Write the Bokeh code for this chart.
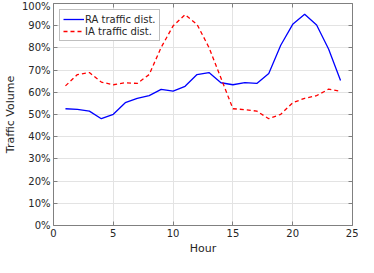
from bokeh.plotting import figure
from bokeh.embed import file_html
from bokeh.resources import INLINE
from bokeh.models import LinearAxis, PrintfTickFormatter, FixedTicker, Range1d, Legend, LegendItem

hours = list(range(1, 25))
ra = [52.6, 52.3, 51.5, 48.1, 50.1, 55.3, 57.3, 58.5, 61.3, 60.5, 62.7, 68.0,
      68.9, 64.3, 63.4, 64.4, 64.0, 68.5, 81.2, 90.6, 95.2, 90.3, 79.5, 65.3]
ia = [62.9, 68.0, 68.9, 64.6, 63.4, 64.3, 64.0, 68.0, 80.2, 89.9, 95.0, 90.6,
      80.2, 66.4, 52.6, 52.2, 51.5, 48.1, 50.1, 55.3, 57.3, 58.5, 61.4, 60.5]
x_ticks = [0, 5, 10, 15, 20, 25]
y_ticks = list(range(0, 101, 10))

FONT = "DejaVu Sans"
TXT = "#262626"
AX = "#808080"

p = figure(width=358, height=257, output_backend="svg", toolbar_location=None,
           x_range=Range1d(0, 25), y_range=Range1d(0, 100),
           min_border_left=38, min_border_right=6, min_border_top=3, min_border_bottom=27,
           x_axis_label="Hour", y_axis_label="Traffic Volume")
p.outline_line_color = None
p.background_fill_color = "white"

r1 = p.line(hours, ra, line_color="#0000ff", line_width=1.3)
r2 = p.line(hours, ia, line_color="#ff0000", line_width=1.3, line_dash="4 3")

for ax in [p.xaxis[0], p.yaxis[0]]:
    ax.axis_line_color = AX
    ax.major_tick_line_color = AX
    ax.major_tick_in = 4
    ax.major_tick_out = 0
    ax.minor_tick_line_color = None
    ax.major_label_text_font = FONT
    ax.major_label_text_font_size = "10px"
    ax.major_label_text_color = TXT
    ax.axis_label_text_font = FONT
    ax.axis_label_text_font_size = "11px"
    ax.axis_label_text_font_style = "normal"
    ax.axis_label_text_color = TXT
    ax.major_label_standoff = 3
    ax.axis_label_standoff = 2

p.xaxis[0].ticker = FixedTicker(ticks=x_ticks)
p.yaxis[0].ticker = FixedTicker(ticks=y_ticks)
p.yaxis[0].formatter = PrintfTickFormatter(format="%d%%")

for loc in ["right", "above"]:
    a = LinearAxis(ticker=FixedTicker(ticks=(y_ticks if loc == "right" else x_ticks)),
                   major_label_text_font_size="0px", axis_line_color=AX,
                   major_tick_line_color=AX, major_tick_in=4, major_tick_out=0,
                   minor_tick_line_color=None, major_label_standoff=0)
    a.major_label_text_color = None
    p.add_layout(a, loc)

p.xgrid.ticker = FixedTicker(ticks=x_ticks)
p.ygrid.ticker = FixedTicker(ticks=y_ticks)
p.grid.grid_line_color = "#e3e3e3"
p.grid.grid_line_width = 1

legend = Legend(items=[LegendItem(label="RA traffic dist.", renderers=[r1]),
                       LegendItem(label="IA traffic dist.", renderers=[r2])],
                location="top_left")
legend.label_text_font = FONT
legend.label_text_font_size = "10px"
legend.label_text_color = TXT
legend.border_line_color = AX
legend.background_fill_color = "white"
legend.background_fill_alpha = 1
legend.glyph_width = 21
legend.glyph_height = 12
legend.label_height = 12
legend.spacing = 0
legend.padding = 3
legend.margin = 6
legend.label_standoff = 1
p.add_layout(legend)

open("out.html", "w").write(file_html(p, INLINE))
